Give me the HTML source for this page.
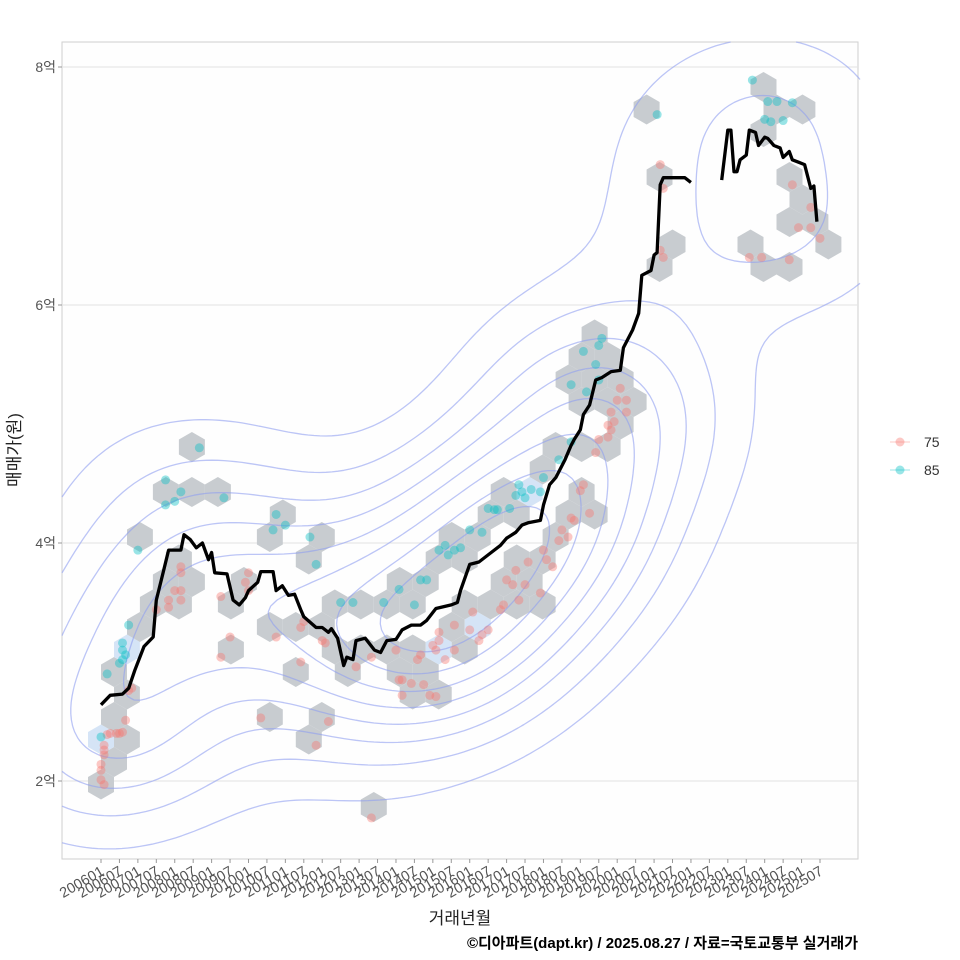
<!DOCTYPE html>
<html><head><meta charset="utf-8">
<style>
html,body{margin:0;padding:0;background:#fff;}
svg{display:block;font-family:"Liberation Sans","Noto Sans CJK KR",sans-serif;}
</style></head>
<body>
<svg id="chart" width="960" height="960" viewBox="0 0 960 960">
  <rect x="0" y="0" width="960" height="960" fill="#ffffff"/>
  <rect x="62" y="42" width="796" height="817" fill="#fefefe" stroke="#cfcfcf" stroke-width="1"/>
  <g id="grid"></g>
  <g id="hexes"></g>
  <g id="contours"></g>
  <g id="points"></g>
  <g id="line"></g>
  <g id="yaxis"></g>
  <g id="xaxis"></g>
  <text x="20" y="450" transform="rotate(-90 20 450)" text-anchor="middle" font-size="17" fill="#222">매매가(원)</text>
  <text x="460" y="924" text-anchor="middle" font-size="17" fill="#222">거래년월</text>
  <text x="858" y="948" text-anchor="end" font-size="15" font-weight="bold" fill="#000">©디아파트(dapt.kr) / 2025.08.27 / 자료=국토교통부 실거래가</text>
  <g>
    <g>
      <line x1="890" y1="442" x2="910" y2="442" stroke="#F8766D" stroke-opacity="0.4" stroke-width="1"/>
      <circle cx="900" cy="442" r="4.5" fill="#F8766D" fill-opacity="0.4"/>
      <text x="924" y="447" font-size="14" fill="#333">75</text>
    </g>
    <g>
      <line x1="890" y1="470" x2="910" y2="470" stroke="#00BFC4" stroke-opacity="0.4" stroke-width="1"/>
      <circle cx="900" cy="470" r="4.5" fill="#00BFC4" fill-opacity="0.4"/>
      <text x="924" y="475" font-size="14" fill="#333">85</text>
    </g>
  </g>
</svg>
<script>
// month index from 2006-01
const lineMonths = [0,3,7,9,11,14,17,18,20,22,26,27,29,31,33,35,36,37,41,43,45,47,48,51,52,56,57,59,61,63,65,66,70,72,74,75,77,79,80,82,83,86,89,91,93,96,98,101,104,106,109,114,116,117,120,123,127,130,132,135,137,139,143,144,146,148,151,153,154,156,157,159,161,163,166,169,170,173,175,176,179,180,181,182,183,190,192,null,202,204,205,206,207,208,210,211,213,214,216,217,219,221,222,224,225,227,229,231,232,233];
const lineValues = [2.64,2.72,2.73,2.78,2.93,3.13,3.21,3.52,3.73,3.94,3.94,4.07,4.03,3.96,4.0,3.86,3.92,3.75,3.74,3.52,3.48,3.54,3.6,3.67,3.76,3.76,3.6,3.64,3.56,3.57,3.44,3.38,3.29,3.29,3.25,3.28,3.2,2.97,3.04,3.02,3.18,3.2,3.1,3.08,3.18,3.19,3.27,3.31,3.31,3.35,3.45,3.48,3.5,3.6,3.82,3.84,3.92,3.98,4.04,4.09,4.15,4.17,4.19,4.32,4.49,4.55,4.7,4.82,4.87,4.95,5.08,5.16,5.37,5.39,5.44,5.45,5.64,5.79,5.93,6.25,6.29,6.42,6.44,7.01,7.07,7.07,7.03,null,7.05,7.47,7.47,7.12,7.12,7.22,7.26,7.47,7.45,7.34,7.41,7.4,7.34,7.32,7.24,7.29,7.22,7.2,7.18,6.98,7.0,6.7];
const pinkMonths = [0,0,1,0,1,1,1,2,3,5,6,7,8,9,10,18,22,22,24,26,26,26,26,39,39,42,47,48,48,52,57,65,66,65,70,74,72,73,83,88,88,96,98,98,97,101,103,104,105,107,108,109,110,110,109,112,115,115,120,121,123,124,126,130,131,132,134,135,136,139,138,143,144,145,147,149,150,152,153,154,156,157,159,161,162,165,165,166,167,168,169,171,171,166,182,183,182,183,211,215,224,225,227,231,231,234];
const pinkValues = [2.09,2.01,1.97,2.14,2.22,2.26,2.30,2.39,2.40,2.40,2.40,2.41,2.51,2.76,2.78,3.44,3.52,3.46,3.60,3.60,3.52,3.80,3.75,3.55,3.04,3.21,3.67,3.75,3.60,2.53,3.21,3.00,3.34,3.29,2.30,2.50,3.18,3.16,2.96,1.69,3.04,3.10,2.72,2.85,2.85,2.82,3.02,3.06,2.81,2.72,3.14,3.10,3.25,3.18,2.71,3.02,3.10,3.31,3.27,3.42,3.18,3.23,3.27,3.44,3.48,3.69,3.65,3.77,3.52,3.84,3.65,3.58,3.94,3.86,3.80,4.02,4.11,4.05,4.21,4.19,4.44,4.49,4.25,4.76,4.87,4.89,4.99,5.10,5.02,5.20,5.30,5.20,5.10,4.95,6.46,6.40,7.18,6.98,6.40,6.40,6.38,7.01,6.65,6.65,6.82,6.56];
const tealMonths = [2,6,7,7,9,12,8,7,0,21,21,24,26,32,40,56,57,60,68,70,78,82,92,97,102,104,106,110,112,113,115,117,120,124,126,128,129,133,135,136,137,138,140,143,144,149,153,157,161,162,163,162,158,153,181,212,217,220,225,218,216,222];
const tealValues = [2.90,2.99,3.02,3.16,3.31,3.94,3.06,3.10,2.37,4.53,4.32,4.35,4.43,4.80,4.38,4.11,4.24,4.15,4.05,3.82,3.50,3.50,3.50,3.61,3.48,3.69,3.69,3.94,3.98,3.90,3.94,3.96,4.11,4.09,4.29,4.28,4.28,4.29,4.40,4.49,4.43,4.38,4.45,4.43,4.55,4.70,4.85,5.61,5.50,5.37,5.72,5.66,5.27,5.33,7.60,7.89,7.71,7.71,7.70,7.54,7.56,7.55];
const yTicks = [2,4,6,8];
const yTickLabels = ["2억","4억","6억","8억"];

const NS = "http://www.w3.org/2000/svg";
const PX0=62, PX1=858, PY0=42, PY1=859;
function xScale(m){ return 101 + m*(719/234); }
function yScale(v){ return 781 - (v-2)*119; }
function mk(tag, attrs, parent){ const e=document.createElementNS(NS,tag); for(const k in attrs) e.setAttribute(k, attrs[k]); parent.appendChild(e); return e; }

const grid=document.getElementById('grid'), yaxis=document.getElementById('yaxis');
yTicks.forEach((t,i)=>{
  const y=yScale(t);
  const gl=mk('line',{x1:PX0,x2:PX1,y1:y,y2:y,stroke:'#e3e3e3','stroke-width':1},grid);
  
  
  const tk=mk('line',{x1:PX0-4,x2:PX0,y1:y,y2:y,stroke:'#999','stroke-width':1},yaxis);
  
  
  const tx=mk('text',{x:PX0-6,y:y+5,'text-anchor':'end','font-size':14,fill:'#555'},yaxis);
  tx.textContent=yTickLabels[i];
  
  
});

const xaxis=document.getElementById('xaxis');
for(let m=0;m<=234;m+=6){
  const x=xScale(m);
  const yr=2006+Math.floor(m/12), mo=(m%12)+1;
  const lab=yr+(mo<10?'0':'')+mo;
  const tk=mk('line',{x1:x,x2:x,y1:PY1,y2:PY1+4,stroke:'#999','stroke-width':1},xaxis);
  
  
  const tx=mk('text',{x:x+4,y:PY1+15,'text-anchor':'end','font-size':14.5,fill:'#555',transform:`rotate(-30 ${x+4} ${PY1+15})`},xaxis);
  tx.textContent=lab;
  
  
}

const allPts=[];
pinkMonths.forEach((m,i)=>allPts.push([xScale(m),yScale(pinkValues[i])]));
tealMonths.forEach((m,i)=>allPts.push([xScale(m),yScale(tealValues[i])]));

// hexbin
const hexG=document.getElementById('hexes');
const R=15, HW=Math.sqrt(3)*R, HV=1.5*R;
const bins={};
allPts.forEach(([x,y])=>{
  let best=null,bd=1e9;
  const r0=Math.round((y-PY0)/HV);
  for(let r=r0-1;r<=r0+1;r++){
    const off=(r&1)?HW/2:0;
    const c0=Math.round((x-PX0-off)/HW);
    for(let c=c0-1;c<=c0+1;c++){
      const cx=PX0+off+c*HW, cy=PY0+r*HV;
      const d=(cx-x)**2+(cy-y)**2;
      if(d<bd){bd=d;best=[r,c,cx,cy];}
    }
  }
  const k=best[0]+'_'+best[1];
  if(!bins[k]) bins[k]={cx:best[2],cy:best[3],n:0};
  bins[k].n++;
});
Object.values(bins).forEach(b=>{
  let pts=[];
  for(let i=0;i<6;i++){const a=Math.PI/180*(60*i-30); pts.push((b.cx+R*Math.cos(a)).toFixed(1)+','+(b.cy+R*Math.sin(a)).toFixed(1));}
  const h=mk('polygon',{points:pts.join(' '),fill:b.n>=4?'#d3e3f6':'#c5c9ce','fill-opacity':0.95},hexG);
  
  
});

// KDE contours
const cG=document.getElementById('contours');
const STEP=6, HX=85, HY=62;
const nx=Math.ceil((PX1-PX0)/STEP)+1, ny=Math.ceil((PY1-PY0)/STEP)+1;
const D=[]; let mx=0;
for(let j=0;j<ny;j++){const row=[];for(let i=0;i<nx;i++){
  const x=PX0+i*STEP,y=PY0+j*STEP; let s=0;
  for(const p of allPts){const dx=(x-p[0])/HX,dy=(y-p[1])/HY; const q=dx*dx+dy*dy; if(q<14) s+=Math.exp(-0.5*q);}
  row.push(s); if(s>mx) mx=s;
} D.push(row);}
let dstr='';
for(let L=1;L<=8;L++){
  const lv=mx*L/9;
  for(let j=0;j<ny-1;j++)for(let i=0;i<nx-1;i++){
    const v=[D[j][i],D[j][i+1],D[j+1][i+1],D[j+1][i]];
    const x0=PX0+i*STEP,y0=PY0+j*STEP;
    const c=[[x0,y0],[x0+STEP,y0],[x0+STEP,y0+STEP],[x0,y0+STEP]];
    const pts=[];
    for(let e=0;e<4;e++){
      const a=v[e],b=v[(e+1)%4];
      if((a<lv)!==(b<lv)){const t=(lv-a)/(b-a); const p=c[e],q=c[(e+1)%4]; pts.push([p[0]+t*(q[0]-p[0]),p[1]+t*(q[1]-p[1])]);}
    }
    for(let k=0;k+1<pts.length;k+=2) dstr+=`M${pts[k][0].toFixed(1)},${pts[k][1].toFixed(1)}L${pts[k+1][0].toFixed(1)},${pts[k+1][1].toFixed(1)}`;
  }
}
const cp=mk('path',{d:dstr,fill:'none',stroke:'#8f9ff0','stroke-opacity':0.6,'stroke-width':1.3},cG);



// points
const pG=document.getElementById('points');
pinkMonths.forEach((m,i)=>{
  const c=mk('circle',{cx:xScale(m),cy:yScale(pinkValues[i]),r:4.5,fill:'#F8766D','fill-opacity':0.4},pG);
  
  
});
tealMonths.forEach((m,i)=>{
  const c=mk('circle',{cx:xScale(m),cy:yScale(tealValues[i]),r:4.5,fill:'#00BFC4','fill-opacity':0.4},pG);
  
  
});

// line
let ld='', pen=false;
lineMonths.forEach((m,i)=>{
  if(m===null||lineValues[i]===null){pen=false;return;}
  ld+=(pen?'L':'M')+xScale(m).toFixed(1)+','+yScale(lineValues[i]).toFixed(1); pen=true;
});
const lp=mk('path',{d:ld,fill:'none',stroke:'#000','stroke-width':3.3,'stroke-linejoin':'round'},document.getElementById('line'));


</script>
</body></html>
